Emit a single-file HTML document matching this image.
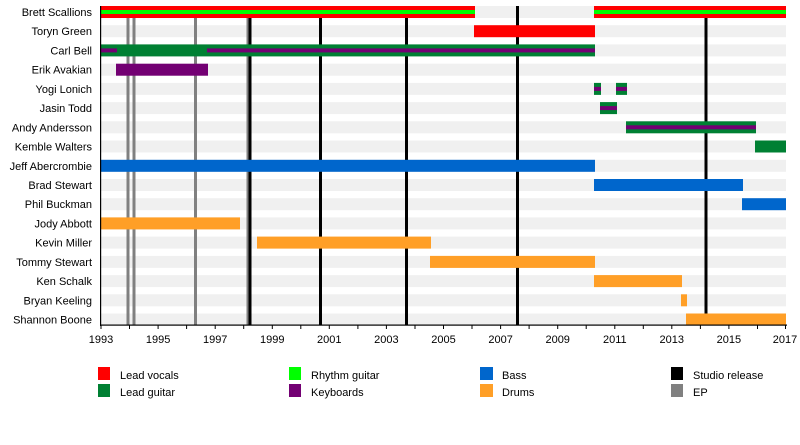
<!DOCTYPE html>
<html><head><meta charset="utf-8"><style>
body{margin:0;background:#fff;}
svg{display:block;font-family:"Liberation Sans",sans-serif;font-size:11px;}
</style></head><body>
<svg width="800" height="445" xmlns="http://www.w3.org/2000/svg">
<g fill="#f0f0f0">
<rect x="101" y="6" width="685" height="12"/><rect x="101" y="25.2" width="685" height="12"/><rect x="101" y="44.4" width="685" height="12"/><rect x="101" y="63.7" width="685" height="12"/><rect x="101" y="82.9" width="685" height="12"/><rect x="101" y="102.1" width="685" height="12"/><rect x="101" y="121.3" width="685" height="12"/><rect x="101" y="140.5" width="685" height="12"/><rect x="101" y="159.8" width="685" height="12"/><rect x="101" y="179" width="685" height="12"/><rect x="101" y="198.2" width="685" height="12"/><rect x="101" y="217.4" width="685" height="12"/><rect x="101" y="236.6" width="685" height="12"/><rect x="101" y="255.9" width="685" height="12"/><rect x="101" y="275.1" width="685" height="12"/><rect x="101" y="294.3" width="685" height="12"/><rect x="101" y="313.5" width="685" height="12"/>
</g>
<g fill="#808080"><rect x="126.5" y="6" width="3" height="319"/><rect x="132.5" y="6" width="3" height="319"/><rect x="194" y="6" width="3" height="319"/><rect x="246.5" y="6" width="3" height="319"/></g>
<g fill="#000"><rect x="248.5" y="6" width="3" height="319"/><rect x="319" y="6" width="3" height="319"/><rect x="405" y="6" width="3" height="319"/><rect x="516" y="6" width="3" height="319"/><rect x="704.5" y="6" width="3" height="319"/></g>
<!-- Brett -->
<rect x="101" y="6" width="374" height="12" fill="#f00"/><rect x="101" y="10" width="374" height="4" fill="#0f0"/>
<rect x="594" y="6" width="192" height="12" fill="#f00"/><rect x="594" y="10" width="192" height="4" fill="#0f0"/>
<rect x="474" y="25.2" width="121" height="12" fill="#f00"/>
<rect x="101" y="44.4" width="494" height="12" fill="#008033"/><rect x="101" y="48.4" width="16" height="4" fill="#730073"/><rect x="207" y="48.4" width="388" height="4" fill="#730073"/>
<rect x="116" y="63.7" width="92" height="12" fill="#730073"/>
<rect x="594" y="82.9" width="7" height="12" fill="#008033"/><rect x="594" y="86.9" width="7" height="4" fill="#730073"/>
<rect x="616" y="82.9" width="11" height="12" fill="#008033"/><rect x="616" y="86.9" width="11" height="4" fill="#730073"/>
<rect x="600" y="102.1" width="17" height="12" fill="#008033"/><rect x="600" y="106.1" width="17" height="4" fill="#730073"/>
<rect x="626" y="121.3" width="130" height="12" fill="#008033"/><rect x="626" y="125.3" width="130" height="4" fill="#730073"/>
<rect x="755" y="140.5" width="31" height="12" fill="#008033"/>
<g fill="#0066cc"><rect x="101" y="159.8" width="494" height="12"/><rect x="594" y="179" width="149" height="12"/><rect x="742" y="198.2" width="44" height="12"/></g>
<g fill="#ff9f27"><rect x="101" y="217.4" width="139" height="12"/><rect x="257" y="236.6" width="174" height="12"/><rect x="430" y="255.9" width="165" height="12"/><rect x="594" y="275.1" width="88" height="12"/><rect x="681" y="294.3" width="6" height="12"/><rect x="686" y="313.5" width="100" height="12"/></g>
<g text-anchor="end" fill="#000">
<text x="92" y="16">Brett Scallions</text><text x="92" y="35.2">Toryn Green</text><text x="92" y="54.4">Carl Bell</text><text x="92" y="73.7">Erik Avakian</text><text x="92" y="92.9">Yogi Lonich</text><text x="92" y="112.1">Jasin Todd</text><text x="92" y="131.3">Andy Andersson</text><text x="92" y="150.5">Kemble Walters</text><text x="92" y="169.8">Jeff Abercrombie</text><text x="92" y="189">Brad Stewart</text><text x="92" y="208.2">Phil Buckman</text><text x="92" y="227.4">Jody Abbott</text><text x="92" y="246.6">Kevin Miller</text><text x="92" y="265.9">Tommy Stewart</text><text x="92" y="285.1">Ken Schalk</text><text x="92" y="304.3">Bryan Keeling</text><text x="92" y="323.5">Shannon Boone</text>
</g>
<rect x="100" y="6" width="1.2" height="320" fill="#000"/>
<rect x="100" y="324.5" width="687" height="1.2" fill="#000"/>
<g stroke="#000" stroke-width="1">
<path d="M101 325v4M129.5 325v4M158.1 325v4M186.6 325v4M215.2 325v4M243.7 325v4M272.3 325v4M300.8 325v4M329.3 325v4M357.9 325v4M386.4 325v4M415 325v4M443.5 325v4M472 325v4M500.6 325v4M529.1 325v4M557.7 325v4M586.2 325v4M614.8 325v4M643.3 325v4M671.8 325v4M700.4 325v4M728.9 325v4M757.5 325v4M785.5 325v4"/>
</g>
<g text-anchor="middle" fill="#000">
<text x="101" y="343">1993</text><text x="158.1" y="343">1995</text><text x="215.2" y="343">1997</text><text x="272.3" y="343">1999</text><text x="329.3" y="343">2001</text><text x="386.4" y="343">2003</text><text x="443.5" y="343">2005</text><text x="500.6" y="343">2007</text><text x="557.7" y="343">2009</text><text x="614.8" y="343">2011</text><text x="671.8" y="343">2013</text><text x="728.9" y="343">2015</text><text x="785" y="343">2017</text>
</g>
<rect x="98" y="367" width="12" height="13" fill="#f00"/><text x="120" y="379">Lead vocals</text>
<rect x="98" y="384" width="12" height="13" fill="#008033"/><text x="120" y="396">Lead guitar</text>
<rect x="289" y="367" width="12" height="13" fill="#0f0"/><text x="311" y="379">Rhythm guitar</text>
<rect x="289" y="384" width="12" height="13" fill="#730073"/><text x="311" y="396">Keyboards</text>
<rect x="480" y="367" width="13" height="13" fill="#0066cc"/><text x="502" y="379">Bass</text>
<rect x="480" y="384" width="13" height="13" fill="#ff9f27"/><text x="502" y="396">Drums</text>
<rect x="671" y="367" width="12" height="13" fill="#000"/><text x="693" y="379">Studio release</text>
<rect x="671" y="384" width="12" height="13" fill="#808080"/><text x="693" y="396">EP</text>
</svg>
</body></html>
